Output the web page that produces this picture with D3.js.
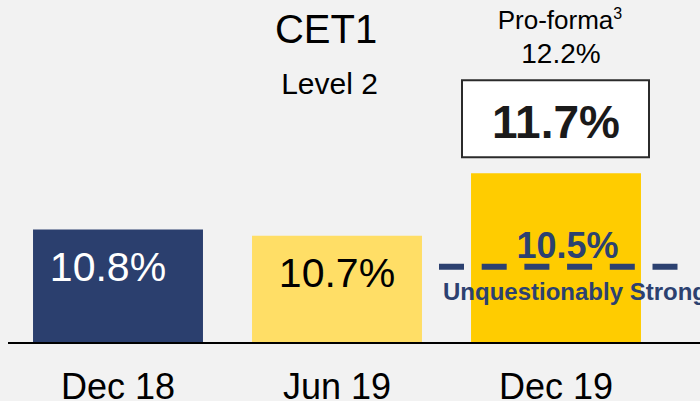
<!DOCTYPE html>
<html>
<head>
<meta charset="utf-8">
<script src="https://cdn.jsdelivr.net/npm/d3@7"></script>
<style>
  html, body { margin: 0; padding: 0; background: #f2f2f2; }
  svg { display: block; font-family: "Liberation Sans", Arial, sans-serif; }
</style>
</head>
<body>
<svg id="chart" width="700" height="401"></svg>
<script>
// ---- data ----
const categories = ["Dec 18", "Jun 19", "Dec 19"];
const values = [10.8, 10.7, 11.7];
const valueLabels = ["10.8%", "10.7%", "11.7%"];
const barColors = ["#2b3f6e", "#ffde66", "#ffcc00"];
const benchmarkValue = 10.5;
const benchmarkLabel = "10.5%";
const benchmarkName = "Unquestionably Strong";
const proformaValue = "12.2%";
const titleText = "CET1";
const subtitleText = "Level 2";

const W = 700, H = 401;
const baseY = 342;
const svg = d3.select("#chart");

svg.append("rect").attr("width", W).attr("height", H).attr("fill", "#f2f2f2");

const x = d3.scaleBand()
  .domain(categories)
  .range([8.5, 665.5])
  .paddingInner(0.224)
  .paddingOuter(0.112);

const y = d3.scaleLinear()
  .domain([9, 12])
  .range([baseY, baseY - 3 * 62.5]);

const rows = categories.map((c, i) => ({ c, v: values[i], label: valueLabels[i], color: barColors[i], i }));

// bars
svg.append("g").selectAll("rect")
  .data(rows).join("rect")
  .attr("x", d => x(d.c))
  .attr("y", d => y(d.v))
  .attr("width", x.bandwidth())
  .attr("height", d => baseY - y(d.v))
  .attr("fill", d => d.color);

// baseline axis
svg.append("line")
  .attr("x1", 8).attr("x2", W)
  .attr("y1", baseY + 1).attr("y2", baseY + 1)
  .attr("stroke", "#000").attr("stroke-width", 2);

// category labels
svg.append("g").selectAll("text")
  .data(rows).join("text")
  .attr("x", d => x(d.c) + x.bandwidth() / 2)
  .attr("y", 398.5)
  .attr("text-anchor", "middle")
  .attr("font-size", 36)
  .attr("fill", "#000")
  .text(d => d.c);

// value labels inside first two bars
const labelDx = [-10, 0];
svg.append("g").selectAll("text")
  .data(rows.slice(0, 2)).join("text")
  .attr("x", d => x(d.c) + x.bandwidth() / 2 + labelDx[d.i])
  .attr("y", d => y(d.v) + 51)
  .attr("text-anchor", "middle")
  .attr("font-size", 41)
  .attr("fill", d => d.i === 0 ? "#ffffff" : "#000000")
  .text(d => d.label);

// boxed label for last bar
const last = rows[2];
const cx = x(last.c) + x.bandwidth() / 2;
const boxTop = y(last.v) - 93, boxBottom = y(last.v) - 16;
svg.append("rect")
  .attr("x", cx - 94).attr("y", boxTop)
  .attr("width", 187).attr("height", boxBottom - boxTop)
  .attr("fill", "#ffffff")
  .attr("stroke", "#2b2b2b").attr("stroke-width", 2);
svg.append("text")
  .attr("x", cx).attr("y", boxTop + 58)
  .attr("text-anchor", "middle")
  .attr("font-size", 46).attr("font-weight", "bold")
  .attr("fill", "#1a1a1a")
  .text(last.label);

// pro-forma
const pf = svg.append("text")
  .attr("x", cx + 4).attr("y", 29)
  .attr("text-anchor", "middle")
  .attr("font-size", 26).attr("fill", "#000");
pf.append("tspan").text("Pro-forma");
pf.append("tspan").attr("dy", -10).attr("font-size", 16).text("3");
svg.append("text")
  .attr("x", cx + 5).attr("y", 63)
  .attr("text-anchor", "middle")
  .attr("font-size", 28).attr("fill", "#000")
  .text(proformaValue);

// title
svg.append("text")
  .attr("x", 326).attr("y", 43)
  .attr("text-anchor", "middle")
  .attr("font-size", 40).attr("fill", "#000")
  .text(titleText);
svg.append("text")
  .attr("x", 329.5).attr("y", 94)
  .attr("text-anchor", "middle")
  .attr("font-size", 30).attr("fill", "#000")
  .text(subtitleText);

// benchmark dashed line
const benchY = y(benchmarkValue) + 18.5;
const navy = "#2c4170";
svg.append("line")
  .attr("x1", 439).attr("x2", 678)
  .attr("y1", benchY).attr("y2", benchY)
  .attr("stroke", navy).attr("stroke-width", 6)
  .attr("stroke-dasharray", "25 17.7");
svg.append("text")
  .attr("x", 567.5).attr("y", benchY - 9)
  .attr("text-anchor", "middle")
  .attr("font-size", 36).attr("font-weight", "bold")
  .attr("fill", navy)
  .text(benchmarkLabel);
svg.append("text")
  .attr("x", 443).attr("y", benchY + 33)
  .attr("font-size", 24).attr("font-weight", "bold")
  .attr("fill", navy)
  .text(benchmarkName);
</script>
</body>
</html>
